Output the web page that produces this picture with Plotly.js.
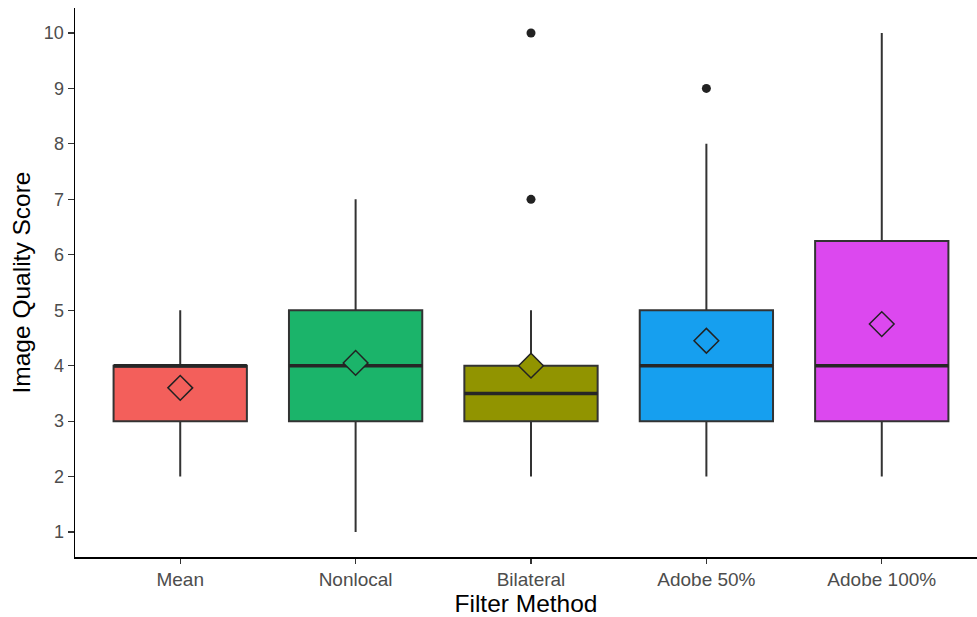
<!DOCTYPE html>
<html>
<head>
<meta charset="utf-8">
<script src="https://cdn.plot.ly/plotly-3.0.1.min.js"></script>
<style>html,body{margin:0;padding:0;background:#fff;}#chart{width:977px;height:617px;}</style>
</head>
<body>
<div id="chart"></div>
<script>
const categories = ["Mean", "Nonlocal", "Bilateral", "Adobe 50%", "Adobe 100%"];
const q1 = [3, 3, 3, 3, 3];
const medians = [4, 4, 3.5, 4, 4];
const q3 = [4, 5, 4, 5, 6.25];
const lowerWhisker = [2, 1, 2, 2, 2];
const upperWhisker = [5, 7, 5, 8, 10];
const means = [3.6, 4.05, 4.0, 4.45, 4.75];
const outlierCats = ["Bilateral", "Bilateral", "Adobe 50%"];
const outlierVals = [7, 10, 9];
const colors = ["#F35F5B", "#1BB46A", "#919400", "#169FEF", "#DC48EF"];
const yTicks = [1, 2, 3, 4, 5, 6, 7, 8, 9, 10];

const traces = [];
categories.forEach((c, i) => {
  traces.push({
    type: "box", x: [c], q1: [q1[i]], median: [medians[i]], q3: [q3[i]],
    lowerfence: [lowerWhisker[i]], upperfence: [upperWhisker[i]],
    fillcolor: colors[i], line: {color: "#333333", width: 2},
    whiskerwidth: 0, width: 0.76, boxpoints: false, hoverinfo: "skip", showlegend: false
  });
});
// thicker median lines
traces.push({
  type: "box", x: categories, q1: medians, median: medians, q3: medians,
  lowerfence: medians, upperfence: medians,
  fillcolor: "rgba(0,0,0,0)", line: {color: "#262626", width: 3.5},
  whiskerwidth: 0, width: 0.76, boxpoints: false, hoverinfo: "skip", showlegend: false
});
traces.push({
  type: "scatter", mode: "markers", x: outlierCats, y: outlierVals,
  marker: {color: "#222222", size: 9}, showlegend: false, hoverinfo: "skip"
});
traces.push({
  type: "scatter", mode: "markers", x: categories, y: means,
  marker: {symbol: "diamond", size: 19, color: colors, line: {color: "#222222", width: 1.5}},
  showlegend: false, hoverinfo: "skip"
});

const layout = {
  width: 977, height: 617,
  margin: {l: 75, r: 0, t: 8, b: 60},
  paper_bgcolor: "#ffffff", plot_bgcolor: "#ffffff",
  font: {family: "Liberation Sans, Arial, sans-serif", color: "#4d4d4d", size: 13},
  boxmode: "overlay",
  xaxis: {
    type: "category", categoryorder: "array", categoryarray: categories,
    range: [-0.6, 4.543], showgrid: false, zeroline: false,
    showline: true, linecolor: "#000000", linewidth: 1.5,
    ticks: "outside", ticklen: 5, tickcolor: "#333333", tickwidth: 1.2,
    tickfont: {size: 19, color: "#4d4d4d"},
    title: {text: "Filter Method", font: {size: 24.5, color: "#000000"}, standoff: 5}
  },
  yaxis: {
    range: [0.55, 10.45], tickvals: yTicks, ticktext: yTicks.map(String),
    showgrid: false, zeroline: false,
    showline: true, linecolor: "#000000", linewidth: 1.5,
    ticks: "outside", ticklen: 6, tickcolor: "#333333", tickwidth: 1.2,
    tickfont: {size: 18, color: "#4d4d4d"},
    title: {text: "Image Quality Score", font: {size: 24.5, color: "#000000"}, standoff: 6}
  }
};
Plotly.newPlot("chart", traces, layout, {displayModeBar: false, staticPlot: true});
</script>
</body>
</html>
